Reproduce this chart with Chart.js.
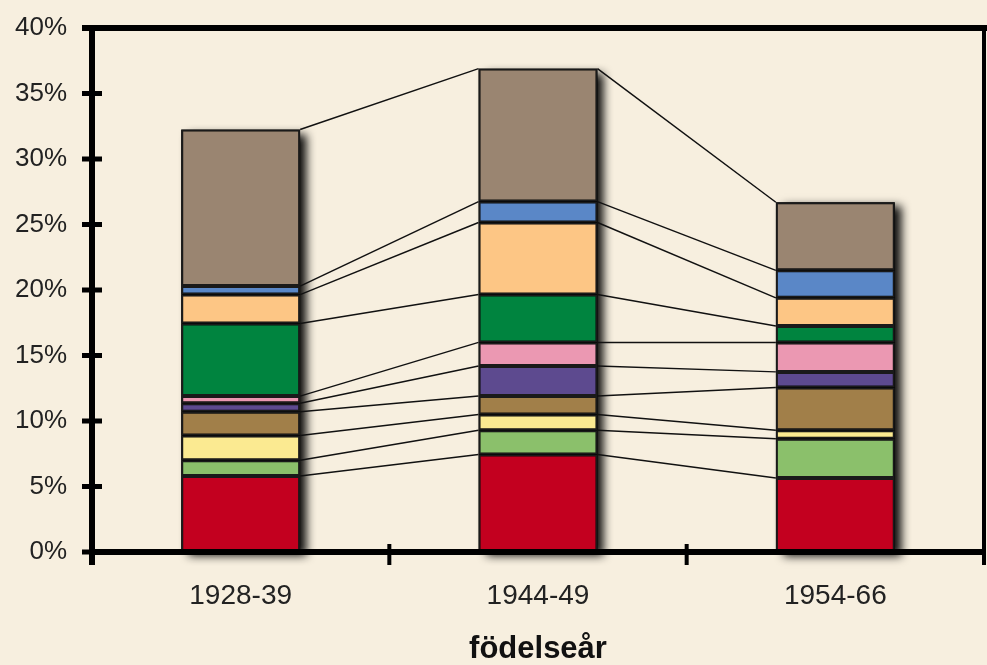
<!DOCTYPE html>
<html lang="sv">
<head>
    <meta charset="UTF-8" />
    <title>födelseår</title>
    <script src="https://cdn.jsdelivr.net/npm/chart.js"></script>
    <style>
        body { margin: 0; background: #f7efdf; }
        #wrap { width: 987px; height: 665px; }
    </style>
</head>
<body>
    <div id="wrap">
        <canvas id="chart" width="987" height="665"></canvas>
    </div>

    <script>
        const categories = ["1928-39", "1944-49", "1954-66"];

        // stacked from the bottom up, in percent
        const red = [5.8, 7.45, 5.65];
        const lightGreen = [1.2, 1.85, 3.0];
        const yellow = [1.9, 1.2, 0.65];
        const ochre = [1.8, 1.4, 3.25];
        const purple = [0.65, 2.3, 1.2];
        const pink = [0.55, 1.8, 2.25];
        const green = [5.55, 3.65, 1.25];
        const orange = [2.2, 5.5, 2.15];
        const blue = [0.65, 1.6, 2.1];
        const taupe = [11.95, 10.15, 5.2];

        const yTicks = [0, 5, 10, 15, 20, 25, 30, 35, 40];

        const series = [
            { data: red, color: "#c3001f" },
            { data: lightGreen, color: "#8bc06b" },
            { data: yellow, color: "#fbea91" },
            { data: ochre, color: "#a17f49" },
            { data: purple, color: "#5d4a8f" },
            { data: pink, color: "#eb98b2" },
            { data: green, color: "#00843f" },
            { data: orange, color: "#fdc685" },
            { data: blue, color: "#5a87c7" },
            { data: taupe, color: "#9a8571" }
        ];

        const bg = "#f7efdf";

        // drop shadow behind each stack
        const shadowPlugin = {
            id: "stackShadow",
            beforeDatasetsDraw(chart) {
                const ctx = chart.ctx;
                const last = chart.getDatasetMeta(series.length - 1).data;
                const first = chart.getDatasetMeta(0).data;
                ctx.save();
                ctx.shadowColor = "rgba(0,0,0,0.95)";
                ctx.shadowBlur = 9;
                ctx.shadowOffsetX = 7;
                ctx.shadowOffsetY = 4;
                ctx.fillStyle = "#000";
                last.forEach((el, i) => {
                    const base = first[i].base;
                    ctx.fillRect(el.x - el.width / 2, el.y, el.width, base - el.y);
                });
                ctx.restore();
            }
        };

        // series lines joining the segment tops of neighbouring bars
        const seriesLines = {
            id: "seriesLines",
            afterDatasetsDraw(chart) {
                const ctx = chart.ctx;
                ctx.save();
                ctx.strokeStyle = "#111";
                ctx.lineWidth = 1.5;
                series.forEach((s, d) => {
                    const els = chart.getDatasetMeta(d).data;
                    for (let j = 0; j < els.length - 1; j++) {
                        const a = els[j], b = els[j + 1];
                        ctx.beginPath();
                        ctx.moveTo(a.x + a.width / 2, a.y);
                        ctx.lineTo(b.x - b.width / 2, b.y);
                        ctx.stroke();
                    }
                });
                ctx.restore();
            }
        };

        // thick frame, axes and tick marks
        const framePlugin = {
            id: "frame",
            beforeDraw(chart) {
                const ctx = chart.ctx;
                ctx.save();
                ctx.fillStyle = bg;
                ctx.fillRect(0, 0, chart.width, chart.height);
                ctx.restore();
            },
            afterDatasetsDraw(chart) {
                const ctx = chart.ctx;
                const area = chart.chartArea;
                const x = chart.scales.x, y = chart.scales.y;
                ctx.save();
                ctx.fillStyle = "#000";
                // top and right border
                ctx.fillRect(area.left - 10, area.top - 3, chart.width - area.left + 10, 6);
                ctx.fillRect(area.right - 2, area.top, 4, area.bottom - area.top);
                // y axis
                ctx.fillRect(area.left - 3, area.top - 3, 6, area.bottom - area.top + 16);
                yTicks.forEach(v => {
                    if (v === 40) return;
                    const py = y.getPixelForValue(v);
                    ctx.fillRect(area.left - 10, py - 2.5, 20, 5);
                });
                // x axis
                ctx.fillRect(area.left - 3, area.bottom - 3, area.right - area.left + 5, 6);
                for (let i = 0; i < categories.length; i++) {
                    let px;
                    if (i < categories.length - 1) {
                        px = (x.getPixelForValue(i) + x.getPixelForValue(i + 1)) / 2;
                    } else {
                        px = area.right;
                    }
                    ctx.fillRect(px - 2, area.bottom - 8, 4, 21);
                }
                ctx.restore();
            }
        };

        const ctx = document.getElementById("chart").getContext("2d");
        new Chart(ctx, {
            type: "bar",
            data: {
                labels: categories,
                datasets: series.map(s => ({
                    data: s.data,
                    backgroundColor: s.color,
                    borderColor: "#1a1a1a",
                    borderWidth: 2,
                    borderSkipped: false,
                    categoryPercentage: 1,
                    barPercentage: 0.4
                }))
            },
            options: {
                responsive: false,
                animation: false,
                layout: { padding: { top: 28, right: 3, left: 0, bottom: 0 } },
                plugins: {
                    legend: { display: false },
                    tooltip: { enabled: false }
                },
                scales: {
                    x: {
                        stacked: true,
                        grid: { display: false, drawTicks: false },
                        border: { display: false },
                        ticks: {
                            padding: 27,
                            color: "#222",
                            font: { family: "Liberation Sans", size: 28 }
                        },
                        title: {
                            display: true,
                            text: "födelseår",
                            color: "#111",
                            padding: { top: 0, bottom: -3 },
                            font: { family: "Liberation Sans", size: 31, weight: "bold" }
                        },
                        afterFit(scale) {
                            scale.height = 113;
                            scale.paddingLeft = 0;
                            scale.paddingRight = 0;
                        }
                    },
                    y: {
                        stacked: true,
                        min: 0,
                        max: 40,
                        grid: { display: false, drawTicks: false },
                        border: { display: false },
                        ticks: {
                            stepSize: 5,
                            padding: 25,
                            color: "#222",
                            font: { family: "Liberation Sans", size: 26 },
                            callback: v => v + "%"
                        },
                        afterFit(scale) {
                            scale.width = 92;
                            scale.paddingTop = 0;
                            scale.paddingBottom = 0;
                        }
                    }
                }
            },
            plugins: [framePlugin, shadowPlugin, seriesLines]
        });
    </script>
</body>
</html>
